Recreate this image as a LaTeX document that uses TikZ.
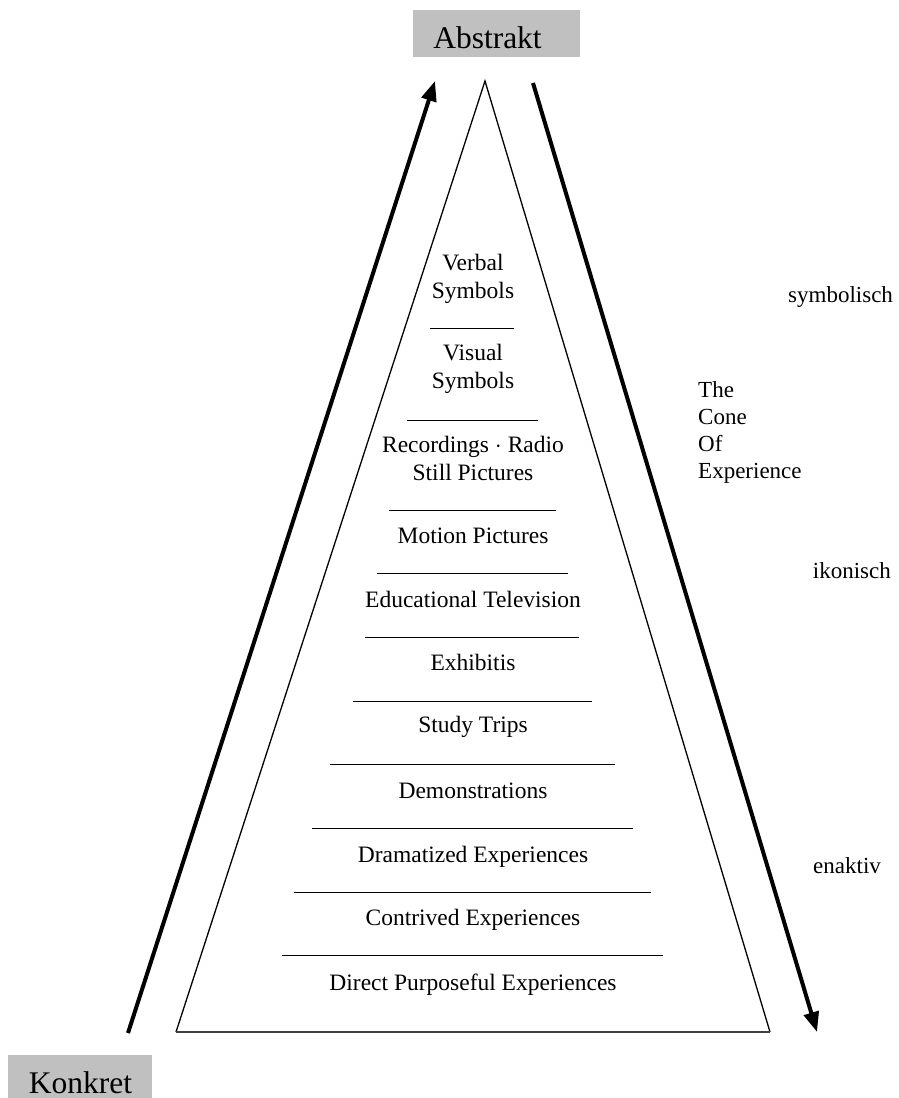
\documentclass[tikz,border=0pt]{standalone}
\usepackage{fontspec}
\setmainfont{Liberation Serif}
\usetikzlibrary{arrows.meta}
\definecolor{boxgray}{HTML}{C0C0C0}
\definecolor{basegray}{HTML}{404040}
\begin{document}
\begin{tikzpicture}[x=1pt,y=-1pt,
  every node/.style={inner sep=0pt, font=\fontsize{23.5}{28}\selectfont},
  rung/.style={anchor=base, align=center},
  sep/.style={line width=1pt},
  cone/.style={line width=1.3pt},
  coneBase/.style={line width=2pt, draw=basegray},
  trend/.style={line width=4pt, -{Triangle[length=20pt,width=15pt]}},
  poleText/.style={anchor=base, font=\fontsize{31.5}{36}\selectfont},
  side/.style={anchor=base west, align=left, font=\fontsize{23}{27}\selectfont}]
\useasboundingbox (0,0) rectangle (899,1098);

% pole labels
\fill[boxgray] (413,10) rectangle (580,57);
\node[poleText] (abstrakt) at (487.5,48) {Abstrakt};
\fill[boxgray] (8,1055) rectangle (152,1100);
\node[poleText] (konkret) at (80.5,1093) {Konkret};

% the cone
\coordinate (apex) at (485,81);
\coordinate (bl) at (176,1032);
\coordinate (br) at (770,1032);
\draw[cone] (bl) -- (apex) -- (br);
\draw[coneBase] (bl) -- (br);

% rising and falling arrows
\coordinate (upS) at (128,1033);
\coordinate (upE) at (435,81);
\coordinate (dnS) at (533,83);
\coordinate (dnE) at (817,1032);
\draw[trend] (upS) -- (upE);
\draw[trend] (dnS) -- (dnE);

% rungs of the cone (base anchor sits on the last line)
\node[rung] (r1) at (473,298) {Verbal\\Symbols};
\draw[sep] (430,328) -- (514,328);
\node[rung] (r2) at (473,388) {Visual\\Symbols};
\draw[sep] (407,420) -- (538,420);
\node[rung] (r3) at (473,480) {Recordings $\cdot$ Radio\\Still Pictures};
\draw[sep] (389,510) -- (556,510);
\node[rung] (r4) at (473,543) {Motion Pictures};
\draw[sep] (377,573) -- (568,573);
\node[rung] (r5) at (473,607) {Educational Television};
\draw[sep] (365,637) -- (579,637);
\node[rung] (r6) at (473,670) {Exhibitis};
\draw[sep] (353,701) -- (592,701);
\node[rung] (r7) at (473,732) {Study Trips};
\draw[sep] (330,764) -- (615,764);
\node[rung] (r8) at (473,798) {Demonstrations};
\draw[sep] (312,828) -- (633,828);
\node[rung] (r9) at (473,862) {Dramatized Experiences};
\draw[sep] (294,892) -- (651,892);
\node[rung] (r10) at (473,925) {Contrived Experiences};
\draw[sep] (282,955) -- (663,955);
\node[rung] (r11) at (473,990) {Direct Purposeful Experiences};

% side labels
\node[side] (title) at (698,478) {The\\Cone\\Of\\Experience};
\node[side] (symb) at (788,302) {symbolisch};
\node[side, anchor=base east] (ikon) at (891,578) {ikonisch};
\node[side] (enak) at (813,873) {enaktiv};
\end{tikzpicture}
\end{document}
